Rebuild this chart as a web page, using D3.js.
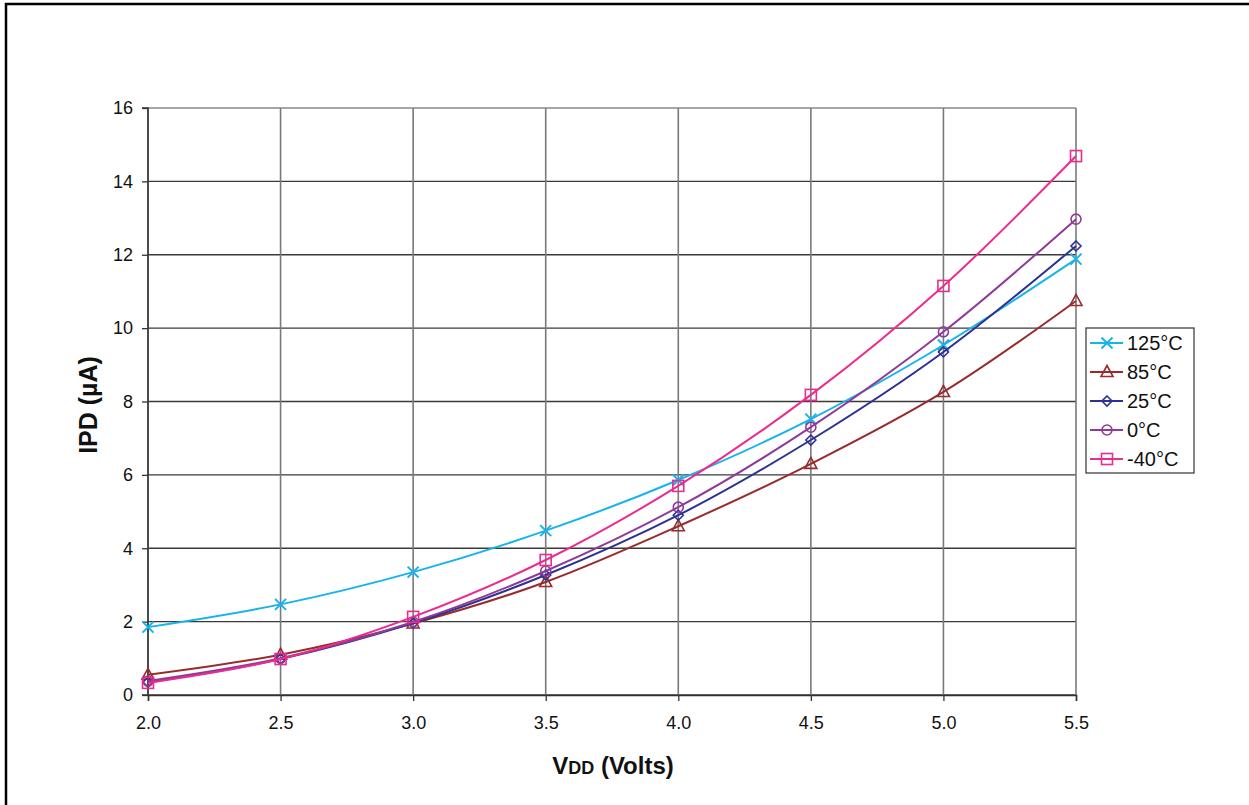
<!DOCTYPE html>
<meta charset="utf-8">
<style>
	body { margin: 0; background: #fff; }
	svg text { font-family: "Liberation Sans", Arial, sans-serif; fill: #111; }
</style>
<svg width="1249" height="805" class="graph"></svg>
<script src="https://cdn.jsdelivr.net/npm/d3@7/dist/d3.min.js"></script>
<script>
// supply voltage (V)
var volts = [2.0, 2.5, 3.0, 3.5, 4.0, 4.5, 5.0, 5.5];
var xTicks = [2.0, 2.5, 3.0, 3.5, 4.0, 4.5, 5.0, 5.5];
var yTicks = [0, 2, 4, 6, 8, 10, 12, 14, 16];

// IPD (uA) per temperature
var ipd125 = [1.85, 2.47, 3.35, 4.48, 5.86, 7.52, 9.54, 11.88];
var ipd85  = [0.55, 1.10, 1.95, 3.08, 4.60, 6.30, 8.26, 10.74];
var ipd25  = [0.35, 0.98, 1.96, 3.27, 4.90, 6.95, 9.35, 12.24];
var ipd0   = [0.38, 1.00, 1.99, 3.38, 5.12, 7.30, 9.90, 12.97];
var ipdM40 = [0.33, 0.98, 2.13, 3.68, 5.70, 8.18, 11.15, 14.69];

var seriesNames = ["125°C", "85°C", "25°C", "0°C", "-40°C"];

var series = [
	{name: seriesNames[0], vals: ipd125, color: "#17b4ea", marker: "cross"},
	{name: seriesNames[1], vals: ipd85,  color: "#982b2b", marker: "triangle"},
	{name: seriesNames[2], vals: ipd25,  color: "#2c3192", marker: "diamond"},
	{name: seriesNames[3], vals: ipd0,   color: "#903a98", marker: "circle"},
	{name: seriesNames[4], vals: ipdM40, color: "#ec2b8c", marker: "square"}
];

var svg = d3.select("svg");

// outer frame (only top and left edges are inside the picture)
svg.append("rect")
	.attr("x", 6).attr("y", 4)
	.attr("width", 1260).attr("height", 820)
	.attr("fill", "none").attr("stroke", "#000").attr("stroke-width", 2.5);

var margin = {left: 148, top: 108},
	width = 1076 - 148,
	height = 695 - 108;

var x = d3.scaleLinear().domain([2.0, 5.5]).range([0, width]);
var y = d3.scaleLinear().domain([0, 16]).range([height, 0]);

var g = svg.append("g").attr("transform", "translate(" + margin.left + "," + margin.top + ")");

// grid
g.selectAll(".hgrid").data(yTicks).enter().append("line")
	.attr("x1", 0).attr("x2", width)
	.attr("y1", d => y(d)).attr("y2", d => y(d))
	.attr("stroke", d => d === 16 ? "#888" : "#3a3a3a").attr("stroke-width", 1.3);
g.selectAll(".vgrid").data(xTicks).enter().append("line")
	.attr("x1", d => x(d)).attr("x2", d => x(d))
	.attr("y1", 0).attr("y2", height)
	.attr("stroke", "#7a7a7a").attr("stroke-width", 1.6);

// axes
var yAxis = d3.axisLeft(y).tickValues(yTicks).tickSize(6).tickPadding(9).tickFormat(d3.format("d"));
var xAxis = d3.axisBottom(x).tickValues(xTicks).tickSize(6).tickPadding(15).tickFormat(d3.format(".1f"));

var gy = g.append("g").call(yAxis);
var gx = g.append("g").attr("transform", "translate(0," + height + ")").call(xAxis);
[gx, gy].forEach(function(a) {
	a.attr("font-size", 18).attr("font-family", "'Liberation Sans', Arial, sans-serif");
	a.select(".domain").attr("stroke", "#333").attr("stroke-width", 1.5);
	a.selectAll(".tick line").attr("stroke", "#333").attr("stroke-width", 1.3);
	a.selectAll(".tick text").attr("fill", "#111");
});
gy.select(".domain").attr("d", "M-6,0H0V" + height + "H-6");

// lines
var line = d3.line()
	.curve(d3.curveCatmullRom.alpha(0.5))
	.x((d, i) => x(volts[i]))
	.y(d => y(d));

function drawMarker(sel, type, color) {
	var s = 5.5;
	if (type === "cross") {
		sel.append("path").attr("d", "M" + -s + "," + -s + "L" + s + "," + s + "M" + -s + "," + s + "L" + s + "," + -s)
			.attr("stroke", color).attr("stroke-width", 2).attr("fill", "none");
	} else if (type === "triangle") {
		sel.append("path").attr("d", "M0,-6.5L6,4.5L-6,4.5Z")
			.attr("stroke", color).attr("stroke-width", 1.6).attr("fill", "none");
	} else if (type === "diamond") {
		sel.append("path").attr("d", "M0,-5L5,0L0,5L-5,0Z")
			.attr("stroke", color).attr("stroke-width", 1.6).attr("fill", "none");
	} else if (type === "circle") {
		sel.append("circle").attr("r", 5)
			.attr("stroke", color).attr("stroke-width", 1.6).attr("fill", "none");
	} else {
		sel.append("rect").attr("x", -5.5).attr("y", -5.5).attr("width", 11).attr("height", 11)
			.attr("stroke", color).attr("stroke-width", 1.6).attr("fill", "none");
	}
}

series.forEach(function(s) {
	g.append("path").datum(s.vals)
		.attr("d", line)
		.attr("fill", "none").attr("stroke", s.color).attr("stroke-width", 2);
	s.vals.forEach(function(v, i) {
		var m = g.append("g").attr("transform", "translate(" + x(volts[i]) + "," + y(v) + ")");
		drawMarker(m, s.marker, s.color);
	});
});

// legend
var legend = svg.append("g").attr("transform", "translate(1086,328)");
legend.append("rect").attr("width", 108).attr("height", 145)
	.attr("fill", "#fff").attr("stroke", "#333").attr("stroke-width", 1.2);
series.forEach(function(s, i) {
	var ly = 15 + i * 29;
	legend.append("line").attr("x1", 4).attr("x2", 37).attr("y1", ly).attr("y2", ly)
		.attr("stroke", s.color).attr("stroke-width", 2);
	var m = legend.append("g").attr("transform", "translate(21," + ly + ")");
	drawMarker(m, s.marker, s.color);
	legend.append("text").attr("x", 41).attr("y", ly + 7)
		.attr("font-size", 20).text(s.name);
});

// axis titles
svg.append("text")
	.attr("transform", "translate(97,405) rotate(-90)")
	.attr("text-anchor", "middle")
	.attr("font-size", 25).attr("font-weight", "bold")
	.text("IPD (µA)");

var xt = svg.append("text")
	.attr("x", 613).attr("y", 774)
	.attr("text-anchor", "middle")
	.attr("font-size", 24).attr("font-weight", "bold");
xt.append("tspan").text("V");
xt.append("tspan").attr("font-size", 18).text("DD");
xt.append("tspan").text(" (Volts)");
</script>
